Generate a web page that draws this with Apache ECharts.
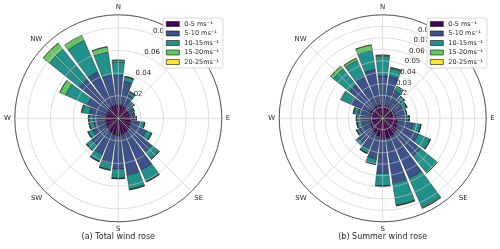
<!DOCTYPE html>
<html>
<head>
<meta charset="utf-8">
<script src="https://cdn.jsdelivr.net/npm/echarts@6/dist/echarts.min.js"></script>
<style>html,body{margin:0;padding:0;background:#fff}#c{width:500px;height:249px}</style>
</head>
<body>
<div id="c"></div>
<script>
// direction bins (degrees, clockwise from N)
const directions = ['0','15','30','45','60','75','90','105','120','135','150','165','180','195','210','225','240','255','270','285','300','315','330','345'];
const speedClasses = ['0-5 ms⁻¹','5-10 ms⁻¹','10-15ms⁻¹','15-20ms⁻¹','20-25ms⁻¹'];
const compassLabels = ['N','','E','SE','S','SW','W','NW'];

// (a) Total wind rose — frequency per speed class and direction
const totalS0to5   = [0.012,0.012,0.011,0.010,0.010,0.010,0.010,0.011,0.012,0.013,0.014,0.015,0.016,0.015,0.014,0.013,0.012,0.011,0.011,0.011,0.011,0.012,0.012,0.012];
const totalS5to10  = [0.026,0.021,0.011,0.006,0.004,0.003,0.004,0.008,0.015,0.025,0.036,0.036,0.029,0.025,0.021,0.017,0.013,0.011,0.011,0.015,0.019,0.032,0.033,0.027];
const totalS10to15 = [0.012,0.004,0.003,0.002,0.0015,0.0015,0.002,0.0045,0.005,0.008,0.011,0.0125,0.008,0.006,0.0065,0.006,0.004,0.004,0.004,0.006,0.021,0.034,0.030,0.0205];
const totalS15to20 = [0.0015,0.0005,0.0005,0.0003,0.0002,0.0002,0.0002,0.0003,0.0005,0.0005,0.0005,0.0005,0.0005,0.0005,0.0005,0.0005,0.0005,0.0003,0.0005,0.001,0.0055,0.007,0.005,0.0045];
const totalS20to25 = [0,0,0,0,0,0,0,0,0,0,0,0,0,0,0,0,0,0,0,0,0,0.0003,0.0003,0];

// (b) Summer wind rose
const summerS0to5   = [0.011,0.011,0.011,0.011,0.011,0.011,0.012,0.013,0.014,0.016,0.017,0.018,0.018,0.016,0.014,0.013,0.012,0.011,0.011,0.011,0.012,0.012,0.012,0.012];
const summerS5to10  = [0.026,0.026,0.015,0.010,0.009,0.008,0.009,0.014,0.020,0.026,0.040,0.039,0.030,0.020,0.016,0.014,0.010,0.009,0.009,0.011,0.018,0.025,0.028,0.031];
const summerS10to15 = [0.017,0.007,0.004,0.0035,0.003,0.002,0.002,0.0065,0.011,0.018,0.0275,0.0195,0.0108,0.0044,0.0033,0.0028,0.0028,0.0028,0.0028,0.0037,0.0095,0.018,0.015,0.017];
const summerS15to20 = [0.001,0.0007,0.0003,0.0002,0.0002,0.0002,0.0002,0.0003,0.0005,0.001,0.001,0.0005,0.0002,0.0002,0.0002,0.0002,0.0002,0.0002,0.0002,0.0003,0.0005,0.003,0.002,0.0045];
const summerS20to25 = [0,0,0,0,0,0,0,0,0,0,0,0,0,0,0,0,0,0,0,0,0,0.0002,0.0002,0.0002];

const totalMax = 0.0915, totalTick = 0.02;
const summerMax = 0.09, summerTick = 0.01;

const colors = ['#440154','#3b528b','#21918c','#5ec962','#fde725'];
const FONT = 'DejaVu Sans';
const R = 103.5;
const centers = [[118.3,118.3],[382.7,118.3]];

const polars = [];
const angleAxes = [];
const radiusAxes = [];
const gridColor = '#c9c9c9';

function addPolarSet(ci, rmax, tick) {
  const base = polars.length;
  // A: grid + compass labels
  polars.push({center: centers[ci], radius: R});
  angleAxes.push({polarIndex: base, type:'value', min:0, max:360, interval:45, startAngle:90, clockwise:true, z:3,
    axisLine:{show:true, lineStyle:{color:'#333', width:0.8}},
    axisTick:{show:false},
    axisLabel:{show:true, margin:4, fontSize:7, fontFamily:FONT, color:'#262626',
      formatter: v => (v >= 360 ? '' : compassLabels[Math.round(v/45) % 8])},
    splitLine:{show:true, lineStyle:{color:gridColor, width:0.6}}});
  radiusAxes.push({polarIndex: base, type:'value', min:0, max:rmax, interval:tick, z:3,
    axisLine:{show:false}, axisTick:{show:false}, axisLabel:{show:false},
    splitLine:{show:true, lineStyle:{color:gridColor, width:0.6}}});
  // B: bars
  polars.push({center: centers[ci], radius: R});
  angleAxes.push({polarIndex: base+1, type:'category', data: directions, startAngle: 90 + 7.5, clockwise:true, show:false});
  radiusAxes.push({polarIndex: base+1, type:'value', min:0, max:rmax, show:false});
  // C: radius labels at 22.5 deg from N
  polars.push({center: centers[ci], radius: R});
  angleAxes.push({polarIndex: base+2, type:'value', min:0, max:360, startAngle: 67.5, clockwise:true, show:false});
  radiusAxes.push({polarIndex: base+2, type:'value', min:0, max:rmax, interval:tick, z:1,
    axisLine:{show:false}, axisTick:{show:false}, splitLine:{show:false},
    axisLabel:{show:true, margin:0, align:'left', verticalAlign:'bottom', fontSize:7, fontFamily:FONT, color:'#262626',
      showMinLabel:false, showMaxLabel:false,
      formatter: v => v.toFixed(2)}});
  return base + 1;
}

const leftBarPolar = addPolarSet(0, totalMax, totalTick);
const rightBarPolar = addPolarSet(1, summerMax, summerTick);

const totalData = [totalS0to5, totalS5to10, totalS10to15, totalS15to20, totalS20to25];
const summerData = [summerS0to5, summerS5to10, summerS10to15, summerS15to20, summerS20to25];

const series = [];
function addSeries(dataSets, polarIndex, stack) {
  dataSets.forEach((d, i) => {
    series.push({
      type:'bar', name: speedClasses[i], coordinateSystem:'polar', polarIndex: polarIndex,
      stack: stack, data: d, barCategoryGap:'16%', z:2,
      itemStyle:{color: colors[i], borderColor:'#1a1a1a', borderWidth:0.45}
    });
  });
}
addSeries(totalData, leftBarPolar, 'total');
addSeries(summerData, rightBarPolar, 'summer');

function legendAt(x) {
  return {
    orient:'vertical', left:x, top:18, data: speedClasses,
    icon:'rect', itemWidth:13, itemHeight:5, itemGap:1.5,
    padding:[2,4,2,3],
    backgroundColor:'rgba(255,255,255,0.85)', borderColor:'#d0d0d0', borderWidth:0.8, borderRadius:2,
    textStyle:{fontSize:6.5, fontFamily:FONT, color:'#262626', lineHeight:8},
    itemStyle:{borderColor:'#111', borderWidth:0.6},
    selectedMode:false
  };
}

const option = {
  animation:false,
  backgroundColor:'#fff',
  textStyle:{fontFamily:FONT},
  title:[
    {text:'(a) Total wind rose', left:118.3, top:233, textAlign:'center', padding:0,
     textStyle:{fontSize:8, fontWeight:'normal', color:'#262626', fontFamily:FONT}},
    {text:'(b) Summer wind rose', left:382.7, top:233, textAlign:'center', padding:0,
     textStyle:{fontSize:8, fontWeight:'normal', color:'#262626', fontFamily:FONT}}
  ],
  legend:[legendAt(163), legendAt(427)],
  polar: polars,
  angleAxis: angleAxes,
  radiusAxis: radiusAxes,
  series: series
};

const chart = echarts.init(document.getElementById('c'), null, {renderer:'canvas'});
chart.setOption(option);
</script>
</body>
</html>
